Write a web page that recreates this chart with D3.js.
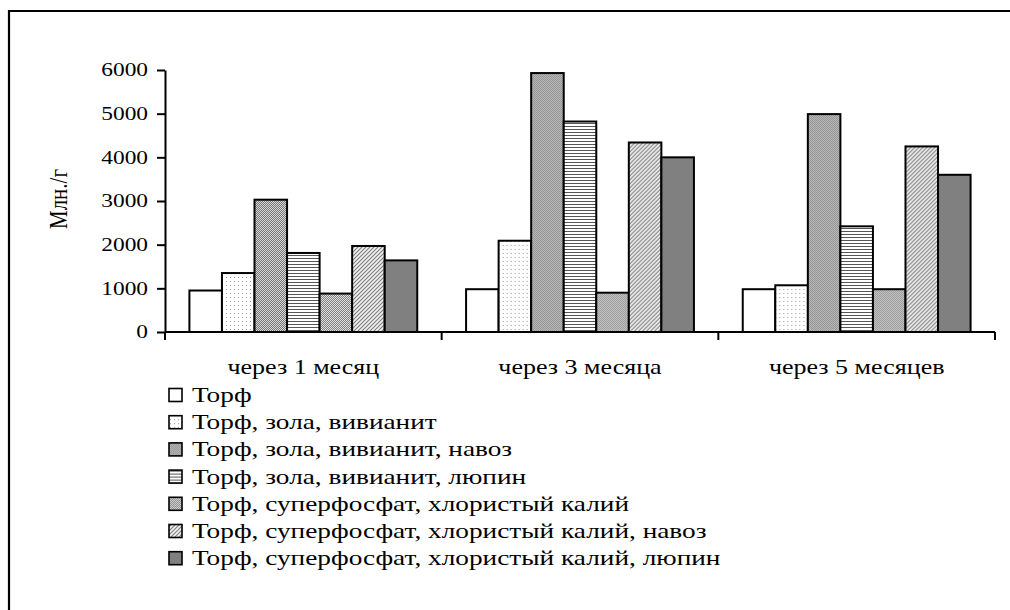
<!DOCTYPE html>
<html>
<head>
<meta charset="utf-8">
<script src="https://cdn.jsdelivr.net/npm/d3@7/dist/d3.min.js"></script>
<style>
  html, body { margin: 0; padding: 0; background: #fff; }
  svg { display: block; }
  text { font-family: "Liberation Serif", "Times New Roman", serif; fill: #000; }
</style>
</head>
<body>
<svg id="chart" width="1010" height="610"></svg>
<script>
// Sampling periods (x categories)
const periods = ["через 1 месяц", "через 3 месяца", "через 5 месяцев"];

// Substrate variants (series)
const variants = [
  "Торф",
  "Торф, зола, вивианит",
  "Торф, зола, вивианит, навоз",
  "Торф, зола, вивианит, люпин",
  "Торф, суперфосфат, хлористый калий",
  "Торф, суперфосфат, хлористый калий, навоз",
  "Торф, суперфосфат, хлористый калий, люпин"
];

// Microorganism counts, млн./г, one array per variant (values per period)
const torf            = [950, 980, 980];
const torfZolaViv     = [1350, 2090, 1070];
const torfZolaVivNav  = [3030, 5930, 4990];
const torfZolaVivLup  = [1810, 4820, 2420];
const torfSuperKcl    = [880, 900, 980];
const torfSuperKclNav = [1970, 4340, 4250];
const torfSuperKclLup = [1640, 4000, 3600];

const seriesValues = [torf, torfZolaViv, torfZolaVivNav, torfZolaVivLup,
                      torfSuperKcl, torfSuperKclNav, torfSuperKclLup];

const yTicks = [0, 1000, 2000, 3000, 4000, 5000, 6000];
const yTitle = "Млн./г";

const SX = 1.3; // horizontal stretch of the lettering

const svg = d3.select("#chart");

// ---- fill patterns ----
const defs = svg.append("defs");
function pat(id, w, h, bg, draw) {
  const p = defs.append("pattern").attr("id", id).attr("patternUnits", "userSpaceOnUse")
    .attr("width", w).attr("height", h);
  p.append("rect").attr("width", w).attr("height", h).attr("fill", bg);
  draw(p);
}
// sparse dots
pat("p-dots", 4, 4, "#fff", p => {
  p.append("rect").attr("x", 1).attr("y", 1).attr("width", 1).attr("height", 1).attr("fill", "#999");
});
// fine checker, medium grey
pat("p-check", 2, 2, "#d6d6d6", p => {
  p.append("rect").attr("x", 0).attr("y", 0).attr("width", 1).attr("height", 1).attr("fill", "#777");
  p.append("rect").attr("x", 1).attr("y", 1).attr("width", 1).attr("height", 1).attr("fill", "#777");
});
// fine checker, slightly lighter
pat("p-check2", 2, 2, "#dedede", p => {
  p.append("rect").attr("x", 0).attr("y", 0).attr("width", 1).attr("height", 1).attr("fill", "#828282");
  p.append("rect").attr("x", 1).attr("y", 1).attr("width", 1).attr("height", 1).attr("fill", "#828282");
});
// horizontal lines
pat("p-hlines", 4, 3, "#fff", p => {
  p.append("rect").attr("x", 0).attr("y", 0).attr("width", 4).attr("height", 1).attr("fill", "#555");
});
// diagonal hatch
pat("p-diag", 4, 4, "#f2f2f2", p => {
  p.append("path").attr("d", "M-1,5 L5,-1 M-1,1 L1,-1 M3,5 L5,3")
    .attr("stroke", "#808080").attr("stroke-width", 1.2);
});

const fills = ["#ffffff", "url(#p-dots)", "url(#p-check)", "url(#p-hlines)",
               "url(#p-check2)", "url(#p-diag)", "#808080"];

// ---- outer frame ----
svg.append("path").attr("d", "M9,615 V11 H1015")
  .attr("fill", "none").attr("stroke", "#000").attr("stroke-width", 2.2);

// ---- scales ----
const y = d3.scaleLinear().domain([0, 6000]).range([332, 70]);
const x0 = d3.scaleBand().domain(periods).range([165, 995]).padding(0);
const x1 = d3.scaleBand().domain(d3.range(variants.length))
  .range([0, x0.bandwidth()]).paddingInner(0).paddingOuter(0.75);

// ---- bars ----
const groups = svg.append("g").selectAll("g").data(periods).join("g")
  .attr("transform", d => `translate(${x0(d)},0)`);
groups.selectAll("rect")
  .data((p, pi) => seriesValues.map((vals, si) => ({ si, v: vals[pi] })))
  .join("rect")
  .attr("x", d => x1(d.si))
  .attr("y", d => y(d.v))
  .attr("width", x1.bandwidth())
  .attr("height", d => y(0) - y(d.v))
  .attr("fill", d => fills[d.si])
  .attr("stroke", "#000").attr("stroke-width", 2);

// ---- y axis ----
const yAxis = svg.append("g").attr("transform", "translate(165,0)")
  .call(d3.axisLeft(y).tickValues(yTicks).tickSize(8).tickSizeOuter(0)
    .tickFormat(d3.format("d")));
yAxis.select(".domain").attr("stroke-width", 2);
yAxis.selectAll(".tick line").attr("stroke-width", 2);
yAxis.selectAll(".tick text")
  .attr("font-size", 18)
  .attr("x", -17 / SX)
  .attr("transform", `scale(${SX},1)`);

// ---- x axis (ticks at category boundaries) ----
const xAxis = svg.append("g");
xAxis.append("line").attr("x1", 165).attr("x2", 995).attr("y1", y(0)).attr("y2", y(0))
  .attr("stroke", "#000").attr("stroke-width", 2);
const bounds = periods.map(p => x0(p)).concat([x0(periods[periods.length - 1]) + x0.bandwidth()]);
xAxis.selectAll("line.tk").data(bounds).join("line").attr("class", "tk")
  .attr("x1", d => d).attr("x2", d => d).attr("y1", y(0)).attr("y2", y(0) + 8)
  .attr("stroke", "#000").attr("stroke-width", 2);
xAxis.selectAll("text").data(periods).join("text")
  .attr("transform", d => `translate(${x0(d) + x0.bandwidth() / 2},374) scale(${SX},1)`)
  .attr("text-anchor", "middle").attr("font-size", 20)
  .text(d => d);

// ---- y title ----
svg.append("text")
  .attr("transform", "translate(67,199) scale(1.2,1) rotate(-90)")
  .attr("text-anchor", "middle").attr("font-size", 21)
  .text(yTitle);

// ---- legend ----
const legend = svg.append("g").selectAll("g").data(variants).join("g")
  .attr("transform", (d, i) => `translate(169,${395 + i * 27.2})`);
legend.append("rect").attr("x", 0).attr("y", -6.5).attr("width", 13).attr("height", 13)
  .attr("fill", (d, i) => fills[i]).attr("stroke", "#000").attr("stroke-width", 1.6);
legend.append("text")
  .attr("transform", `translate(23,7) scale(${SX},1)`)
  .attr("font-size", 21)
  .text(d => d);
</script>
</body>
</html>
